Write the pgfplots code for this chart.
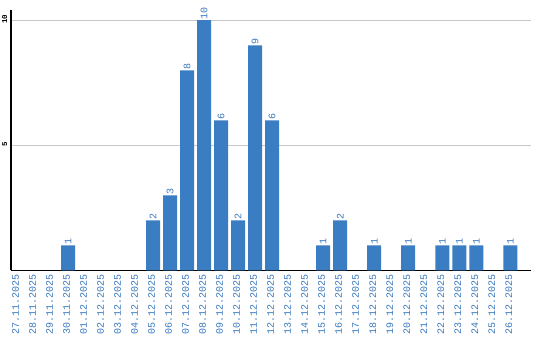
\documentclass[border=0pt]{standalone}
\usepackage{fontspec}
\setmainfont{Liberation Sans}
\setmonofont{Liberation Mono}
\usepackage{pgfplots}
\pgfplotsset{compat=1.18}
\definecolor{barblue}{RGB}{59,125,195}
\definecolor{lblblue}{RGB}{58,120,190}
\definecolor{gridgray}{RGB}{200,200,200}
\begin{document}
\begin{tikzpicture}
\path[use as bounding box] (0,0) rectangle (540bp,340bp);
\begin{axis}[
  at={(11bp,69.7bp)}, anchor=south west,
  scale only axis, width=519.7bp, height=260.3bp,
  xmin=-0.353, xmax=30.2, ymin=0, ymax=10.41,
  axis x line*=bottom, axis y line*=left,
  axis line style={black, line width=1.1bp, -},
  ybar, bar width=14bp, bar shift=0pt,
  ytick={5,10}, ymajorgrids,
  grid style={gridgray, line width=0.9bp},
  major tick length=0pt,
  /pgf/number format/assume math mode=true,
  yticklabel style={rotate=90, anchor=south, font=\ttfamily\bfseries\fontsize{7.5bp}{8bp}\selectfont, black, inner sep=0pt, xshift=1bp, yshift=3.5bp},
  xtick={0,...,29},
  xticklabels={27.11.2025,28.11.2025,29.11.2025,30.11.2025,01.12.2025,02.12.2025,03.12.2025,04.12.2025,05.12.2025,06.12.2025,07.12.2025,08.12.2025,09.12.2025,10.12.2025,11.12.2025,12.12.2025,13.12.2025,14.12.2025,15.12.2025,16.12.2025,17.12.2025,18.12.2025,19.12.2025,20.12.2025,21.12.2025,22.12.2025,23.12.2025,24.12.2025,25.12.2025,26.12.2025},
  xticklabel style={rotate=90, anchor=east, font=\ttfamily\fontsize{10bp}{11bp}\selectfont, text=lblblue, inner sep=0pt, xshift=-4bp, yshift=1.5bp},
  nodes near coords,
  every node near coord/.append style={rotate=90, anchor=west, font=\ttfamily\fontsize{10bp}{11bp}\selectfont, text=lblblue, inner sep=1bp},
  clip=false,
]
\addplot[fill=barblue, draw=none] coordinates {
(3,1) (8,2) (9,3) (10,8) (11,10) (12,6) (13,2) (14,9) (15,6)
(18,1) (19,2) (21,1) (23,1) (25,1) (26,1) (27,1) (29,1)
};
\end{axis}
\end{tikzpicture}
\end{document}
